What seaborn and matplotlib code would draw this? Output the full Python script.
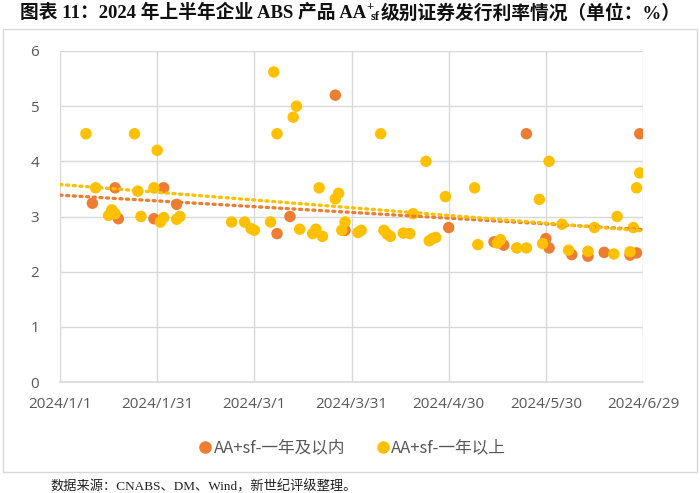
import matplotlib
matplotlib.use("Agg")
import matplotlib.pyplot as plt
import seaborn as sns
import pandas as pd
import numpy as np
from matplotlib.patches import Rectangle
from matplotlib.lines import Line2D

# ---------------- data ----------------
short_dates = ["2024-01-11", "2024-01-18", "2024-01-19", "2024-01-30", "2024-02-02", "2024-02-06",
               "2024-03-08", "2024-03-12", "2024-03-26", "2024-03-29", "2024-04-30", "2024-05-14",
               "2024-05-17", "2024-05-24", "2024-05-30", "2024-05-31", "2024-06-07", "2024-06-12",
               "2024-06-17", "2024-06-25", "2024-06-27", "2024-06-28"]
short_rates = [3.24, 3.52, 2.96, 2.96, 3.52, 3.22,
               2.69, 3.00, 5.20, 2.75, 2.80, 2.54,
               2.48, 4.50, 2.60, 2.43, 2.31, 2.28,
               2.35, 2.30, 2.34, 4.50]

long_dates = ["2024-01-09", "2024-01-12", "2024-01-16", "2024-01-17", "2024-01-18", "2024-01-24",
              "2024-01-25", "2024-01-26", "2024-01-30", "2024-01-31", "2024-02-01", "2024-02-02",
              "2024-02-06", "2024-02-07", "2024-02-23", "2024-02-27", "2024-02-29", "2024-03-01",
              "2024-03-06", "2024-03-07", "2024-03-08", "2024-03-13", "2024-03-14", "2024-03-15",
              "2024-03-19", "2024-03-20", "2024-03-21", "2024-03-22", "2024-03-26", "2024-03-27",
              "2024-03-28", "2024-03-29", "2024-04-02", "2024-04-03", "2024-04-09", "2024-04-10",
              "2024-04-11", "2024-04-12", "2024-04-16", "2024-04-18", "2024-04-19", "2024-04-23",
              "2024-04-24", "2024-04-25", "2024-04-26", "2024-04-29", "2024-05-08", "2024-05-09",
              "2024-05-15", "2024-05-16", "2024-05-21", "2024-05-24", "2024-05-28", "2024-05-29",
              "2024-05-31", "2024-06-04", "2024-06-06", "2024-06-12", "2024-06-14", "2024-06-20",
              "2024-06-21", "2024-06-25", "2024-06-26", "2024-06-27", "2024-06-28"]
long_rates = [4.50, 3.52, 3.02, 3.12, 3.05, 4.50,
              3.46, 3.00, 3.52, 4.20, 2.90, 2.98,
              2.95, 3.00, 2.90, 2.90, 2.78, 2.75,
              2.90, 5.62, 4.50, 4.80, 5.00, 2.77,
              2.69, 2.77, 3.52, 2.64, 3.32, 3.42,
              2.75, 2.90, 2.71, 2.75, 4.50, 2.75,
              2.68, 2.64, 2.70, 2.69, 3.05, 4.00,
              2.56, 2.60, 2.62, 3.36, 3.52, 2.49,
              2.52, 2.58, 2.43, 2.43, 3.31, 2.51,
              4.00, 2.86, 2.39, 2.37, 2.80, 2.32,
              3.00, 2.36, 2.80, 3.52, 3.79]

series_names = ["AA+sf-一年及以内", "AA+sf-一年以上"]
tick_dates = ["2024-01-01", "2024-01-31", "2024-03-01", "2024-03-31", "2024-04-30", "2024-05-30", "2024-06-29"]
tick_labels = ["2024/1/1", "2024/1/31", "2024/3/1", "2024/3/31", "2024/4/30", "2024/5/30", "2024/6/29"]
y_ticks = [0, 1, 2, 3, 4, 5, 6]

title_head = "图表 11：2024 年上半年企业 ABS 产品 AA"
title_sup = "+"
title_sub = "sf"
title_tail = "级别证券发行利率情况（单位：%）"
source = "数据来源：CNABS、DM、Wind，新世纪评级整理。"

# ---------------- build frame ----------------
origin = pd.Timestamp("2024-01-01")
def to_days(ds):
    return [(pd.Timestamp(d) - origin).days for d in ds]

df = pd.concat([
    pd.DataFrame({"day": to_days(short_dates), "rate": short_rates, "series": series_names[0]}),
    pd.DataFrame({"day": to_days(long_dates), "rate": long_rates, "series": series_names[1]}),
], ignore_index=True)

colors = {series_names[0]: "#ED7D31", series_names[1]: "#FFC000"}

sns.set_style("white")
plt.rcParams["font.family"] = ["Noto Sans CJK SC", "DejaVu Sans"]

fig = plt.figure(figsize=(7.0, 4.93), dpi=100)
ax = fig.add_axes([60/700, 1-382/493, (643-60)/700, (382-51)/493])

tick_days = to_days(tick_dates)
ax.set_xlim(tick_days[0], tick_days[-1])
ax.set_ylim(0, 6)

sns.scatterplot(data=df, x="day", y="rate", hue="series", palette=colors,
                hue_order=series_names, s=68, linewidth=0, ax=ax, legend=False, zorder=3)

for name in series_names:
    sub = df[df["series"] == name]
    sns.regplot(data=sub, x="day", y="rate", scatter=False, ci=None, truncate=False, ax=ax,
                color=colors[name],
                line_kws=dict(linestyle=(0, (0.6, 1.4)), lw=2.4, dash_capstyle="round", zorder=4))

ax.set_xticks(tick_days)
ax.set_xticklabels(tick_labels)
ax.set_yticks(y_ticks)
ax.set_xlabel("")
ax.set_ylabel("")
ax.grid(True, color="#D9D9D9", lw=1.0)
ax.set_axisbelow(True)
for sp in ["top", "right", "left"]:
    ax.spines[sp].set_visible(False)
ax.spines["bottom"].set_color("#D9D9D9")
ax.spines["bottom"].set_linewidth(1.2)
ax.tick_params(axis="both", length=0, labelsize=11, labelcolor="#595959")
ax.tick_params(axis="x", pad=11)
ax.tick_params(axis="y", pad=15)
for lab in ax.get_xticklabels() + ax.get_yticklabels():
    lab.set_fontfamily(["Open Sans", "DejaVu Sans"])

handles = [Line2D([], [], marker="o", ls="", color=colors[n], markersize=8) for n in series_names]
fig.legend(handles, series_names, loc="center", bbox_to_anchor=(352/700, 1-448/493), ncol=2,
           frameon=False, fontsize=12, labelcolor="#595959", handletextpad=0.05, columnspacing=1.8,
           handlelength=0.9)

# chart frame box
fig.patches.append(Rectangle((3/700, 1-472/493), 694/700, (472-29)/493, transform=fig.transFigure,
                             fill=False, edgecolor="#D9D9D9", lw=1.0))

# title assembled from pieces (superscript / subscript)
tfam = ["Liberation Serif", "Noto Sans CJK SC"]
fig.canvas.draw()
renderer = fig.canvas.get_renderer()
ty = 1 - 13/493
pieces = [(title_head, 13.5, 0), (title_sup, 9, 6), (title_sub, 9, -4), (title_tail, 13.5, 0)]
texts = []
for s, fs, dy in pieces:
    t = fig.text(0, ty, s, ha="left", va="center", fontsize=fs, fontweight="bold",
                 family=tfam, color="#111111")
    texts.append((t, dy))
w = [t.get_window_extent(renderer).width for t, _ in texts]
sub_x_off = w[1] * 0.55
total = w[0] + max(w[1], sub_x_off + w[2]) + w[3]
x0 = 350 - total / 2
xs = [x0, x0 + w[0], x0 + w[0] + sub_x_off, x0 + w[0] + max(w[1], sub_x_off + w[2]) + 1]
for (t, dy), xp in zip(texts, xs):
    t.set_x(xp / 700)
    t.set_y(ty + dy / 493)

fig.text(50/700, 1-487/493, source, ha="left", va="center", fontsize=9.5,
         family=["Liberation Serif", "Noto Sans CJK SC"], color="#222222")

fig.savefig("out.png", dpi=100)
